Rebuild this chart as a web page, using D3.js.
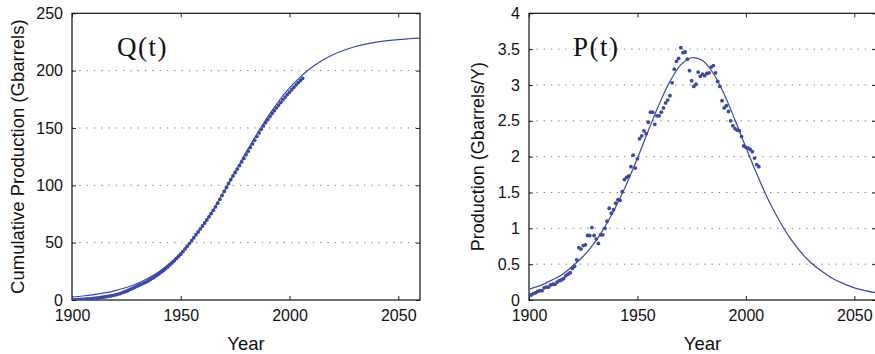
<!DOCTYPE html>
<html>
<head>
<meta charset="utf-8">
<script src="https://cdn.jsdelivr.net/npm/d3@7"></script>
<style>
  body { margin: 0; background: #fff; }
  text { font-family: "Liberation Sans", Arial, sans-serif; }
</style>
</head>
<body>
<div id="my_dataviz"></div>
<script>
// yearly production data (Gbarrels/Y), 1900..2006
const dataYears = d3.range(1900, 2007);
const production = [
  0.06, 0.07, 0.09, 0.10, 0.12, 0.13, 0.13, 0.17, 0.18, 0.18,
  0.21, 0.22, 0.22, 0.25, 0.27, 0.28, 0.30, 0.34, 0.36, 0.38,
  0.44, 0.47, 0.56, 0.73, 0.71, 0.76, 0.77, 0.90, 0.90, 1.01,
  0.90, 0.85, 0.79, 0.91, 0.91, 1.00, 1.10, 1.28, 1.21, 1.26,
  1.35, 1.40, 1.39, 1.51, 1.68, 1.71, 1.73, 1.86, 2.02, 1.84,
  1.97, 2.25, 2.29, 2.36, 2.32, 2.48, 2.62, 2.62, 2.45, 2.57,
  2.57, 2.62, 2.68, 2.75, 2.79, 2.85, 3.03, 3.22, 3.33, 3.37,
  3.52, 3.45, 3.46, 3.36, 3.20, 3.06, 2.98, 3.01, 3.18, 3.12,
  3.15, 3.13, 3.16, 3.17, 3.25, 3.27, 3.17, 3.05, 2.98, 2.78,
  2.68, 2.71, 2.63, 2.50, 2.43, 2.39, 2.37, 2.36, 2.28, 2.15,
  2.13, 2.12, 2.10, 2.07, 1.98, 1.89, 1.86
];
// cumulative production data (Gbarrels), 1900..2006
const cumulative = [
  0.06, 0.13, 0.22, 0.32, 0.44, 0.57, 0.70, 0.87, 1.05, 1.23,
  1.44, 1.66, 1.88, 2.13, 2.40, 2.68, 2.98, 3.32, 3.68, 4.06,
  4.50, 4.97, 5.53, 6.26, 6.97, 7.73, 8.50, 9.40, 10.30, 11.31,
  12.21, 13.06, 13.85, 14.76, 15.67, 16.67, 17.77, 19.05, 20.26, 21.52,
  22.87, 24.27, 25.66, 27.17, 28.85, 30.56, 32.29, 34.15, 36.17, 38.01,
  39.98, 42.23, 44.52, 46.88, 49.20, 51.68, 54.30, 56.92, 59.37, 61.94,
  64.51, 67.13, 69.81, 72.56, 75.35, 78.20, 81.23, 84.45, 87.78, 91.15,
  94.67, 98.12, 101.58, 104.94, 108.14, 111.20, 114.18, 117.19, 120.37, 123.49,
  126.64, 129.77, 132.93, 136.10, 139.35, 142.62, 145.79, 148.84, 151.82, 154.60,
  157.28, 159.99, 162.62, 165.12, 167.55, 169.94, 172.31, 174.67, 176.95, 179.10,
  181.23, 183.35, 185.45, 187.52, 189.50, 191.39, 193.25
];

// fitted curves, read every 5 years 1900..2060
const fitYears = d3.range(1900, 2061, 5);
const fitQ = [
  2.6, 3.5, 4.7, 6.2, 8.2, 10.9, 14.4, 19.0, 24.7, 32.0,
  41.0, 51.8, 64.6, 79.0, 94.9, 111.6, 128.5, 144.7, 159.8, 173.3,
  184.9, 194.6, 202.6, 208.9, 213.9, 217.8, 220.8, 223.1, 224.8, 226.1,
  227.1, 227.8, 228.4
];
const fitP = [
  0.15, 0.20, 0.27, 0.35, 0.47, 0.61, 0.79, 1.02, 1.30, 1.62,
  1.98, 2.36, 2.73, 3.05, 3.28, 3.38, 3.34, 3.16, 2.87, 2.51,
  2.13, 1.76, 1.42, 1.13, 0.88, 0.68, 0.52, 0.40, 0.30, 0.23,
  0.17, 0.13, 0.10
];

const xTicks = [1900, 1950, 2000, 2050];
const qTicks = [0, 50, 100, 150, 200, 250];
const pTicks = [0, 0.5, 1, 1.5, 2, 2.5, 3, 3.5, 4];

const blue = "#3a4aa6";

const svg = d3.select("#my_dataviz")
  .append("svg")
    .attr("width", 875)
    .attr("height", 354);

function panel(opt) {
  const x = d3.scaleLinear().domain([1900, 2060]).range([opt.left, opt.right]);
  const y = d3.scaleLinear().domain(opt.yDomain).range([300, 13.3]);
  const g = svg.append("g");

  g.append("defs").append("clipPath")
    .attr("id", opt.id)
    .append("rect")
      .attr("x", opt.left).attr("y", 13.3)
      .attr("width", opt.right - opt.left).attr("height", 300 - 13.3);

  // dotted horizontal grid
  g.selectAll(".grid")
    .data(opt.yTicks.filter(d => d > opt.yDomain[0] && d < opt.yDomain[1]))
    .enter().append("line")
      .attr("x1", opt.left).attr("x2", opt.right)
      .attr("y1", d => y(d)).attr("y2", d => y(d))
      .style("stroke", "#7a7a7a")
      .style("stroke-width", 1)
      .style("stroke-dasharray", "1.3,6");

  // axes (ticks pointing inward)
  g.append("g")
    .attr("transform", "translate(0,300)")
    .call(d3.axisBottom(x).tickValues(xTicks).tickFormat(d3.format("d"))
      .tickSizeInner(-4).tickSizeOuter(0).tickPadding(10));
  g.append("g")
    .attr("transform", "translate(0,13.3)")
    .call(d3.axisTop(x).tickValues(xTicks).tickFormat("")
      .tickSizeInner(-4).tickSizeOuter(0));
  g.append("g")
    .attr("transform", "translate(" + opt.left + ",0)")
    .call(d3.axisLeft(y).tickValues(opt.yTicks).tickFormat(d => d)
      .tickSizeInner(-4).tickSizeOuter(0).tickPadding(9));
  g.append("g")
    .attr("transform", "translate(" + opt.right + ",0)")
    .call(d3.axisRight(y).tickValues(opt.yTicks).tickFormat("")
      .tickSizeInner(-4).tickSizeOuter(0));
  g.selectAll(".domain").remove();
  g.selectAll(".tick line").style("stroke", "#222");
  g.selectAll(".tick text")
    .style("font-size", "16px")
    .style("font-family", "'Liberation Sans', Arial, sans-serif")
    .style("fill", "#111");

  // frame
  g.append("rect")
    .attr("x", opt.left).attr("y", 13.3)
    .attr("width", opt.right - opt.left).attr("height", 300 - 13.3)
    .style("fill", "none").style("stroke", "#111").style("stroke-width", 1.2);

  const plot = g.append("g").attr("clip-path", "url(#" + opt.id + ")");

  plot.selectAll("circle")
    .data(opt.dots)
    .enter().append("circle")
      .attr("cx", (d, i) => x(dataYears[i]))
      .attr("cy", d => y(d))
      .attr("r", 1.9)
      .style("fill", blue);

  plot.append("path")
    .datum(opt.fit)
    .attr("d", d3.line()
      .x((d, i) => x(fitYears[i]))
      .y(d => y(d))
      .curve(d3.curveCatmullRom))
    .style("fill", "none")
    .style("stroke", blue)
    .style("stroke-width", 1.2);

  // axis titles
  g.append("text")
    .attr("x", (opt.left + opt.right) / 2)
    .attr("y", 350)
    .attr("text-anchor", "middle")
    .style("font-size", "18.5px")
    .style("fill", "#111")
    .text("Year");
  g.append("text")
    .attr("transform", "translate(" + opt.titleX + "," + (13.3 + 300) / 2 + ") rotate(-90)")
    .attr("text-anchor", "middle")
    .style("font-size", opt.titleSize)
    .style("fill", "#111")
    .text(opt.yTitle);

  // panel label
  g.append("text")
    .attr("x", opt.labelX)
    .attr("y", 56)
    .style("font-family", "'Liberation Serif', 'DejaVu Serif', serif")
    .style("font-size", "27px")
    .style("letter-spacing", "1.5px")
    .style("fill", "#111")
    .text(opt.label);
}

panel({
  id: "clipQ", left: 72, right: 420,
  yDomain: [0, 250], yTicks: qTicks,
  dots: cumulative, fit: fitQ,
  yTitle: "Cumulative Production (Gbarrels)", titleX: 23.5, titleSize: "18.5px",
  label: "Q(t)", labelX: 117
});

panel({
  id: "clipP", left: 529, right: 876,
  yDomain: [0, 4], yTicks: pTicks,
  dots: production, fit: fitP,
  yTitle: "Production (Gbarrels/Y)", titleX: 484, titleSize: "18px",
  label: "P(t)", labelX: 573
});
</script>
</body>
</html>
